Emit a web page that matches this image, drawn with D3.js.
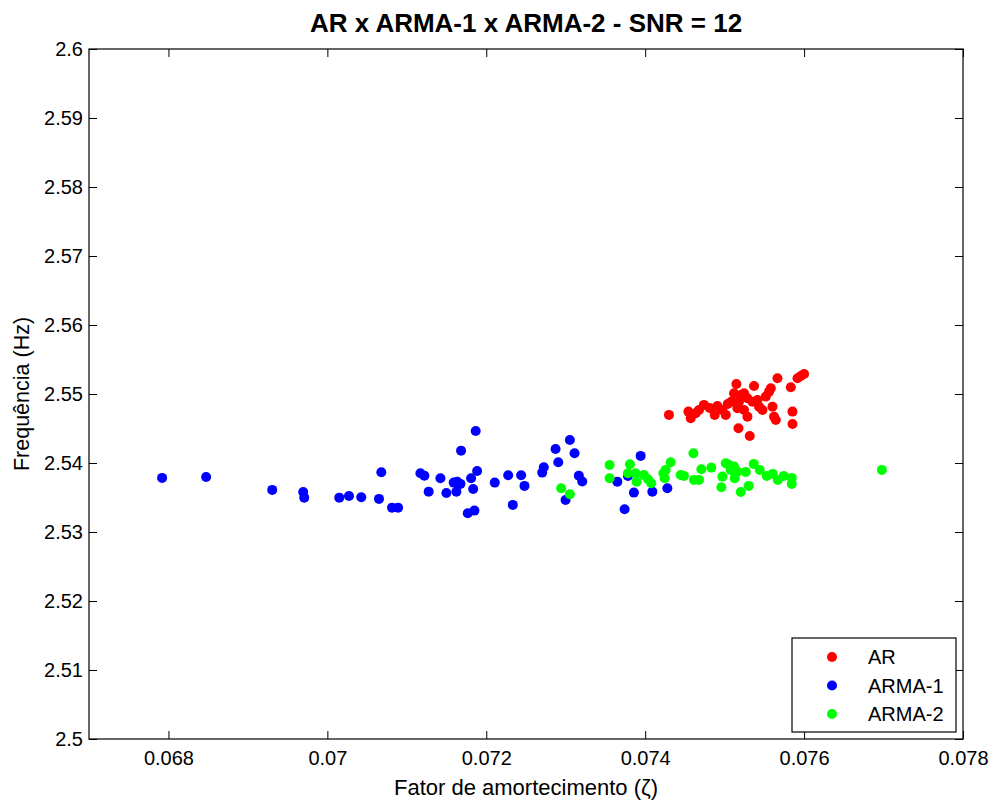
<!DOCTYPE html>
<html>
<head>
<meta charset="utf-8">
<script src="https://d3js.org/d3.v7.min.js"></script>
<style>
  body { margin: 0; background: #fff; }
  text { font-family: "Liberation Sans", Arial, sans-serif; fill: #000; }
</style>
</head>
<body>
<script>
// chart text
var title = "AR x ARMA-1 x ARMA-2 - SNR = 12";
var xTitle = "Fator de amortecimento (\u03B6)";
var yTitle = "Frequência (Hz)";
var seriesNames = ["AR", "ARMA-1", "ARMA-2"];
var seriesColors = ["#ff0000", "#0000ff", "#00ff00"];

// ticks
var xTicks = [0.068, 0.07, 0.072, 0.074, 0.076, 0.078];
var yTicks = [2.5, 2.51, 2.52, 2.53, 2.54, 2.55, 2.56, 2.57, 2.58, 2.59, 2.6];

// AR points (damping, frequency)
var arX = [0.074299, 0.074544, 0.074573, 0.074636, 0.074677, 0.074740, 0.074875, 0.074909, 0.074972, 0.075014,
           0.075085, 0.075148, 0.075161, 0.075174, 0.075203, 0.075244, 0.075287, 0.075287, 0.075316, 0.075370,
           0.075413, 0.075433, 0.075476, 0.075518, 0.075559, 0.075581, 0.075602, 0.075622, 0.075644, 0.075665,
           0.075833, 0.075854, 0.075854, 0.075917, 0.075959, 0.076000, 0.075118, 0.075244, 0.075350, 0.075181,
           0.075039, 0.074812];
var arY = [2.54697, 2.54745, 2.54649, 2.54721, 2.54769, 2.54842, 2.54697, 2.54827, 2.54769, 2.54697,
           2.54889, 2.55146, 2.54794, 2.54504, 2.54986, 2.54769, 2.54939, 2.54672, 2.54392, 2.55117,
           2.54914, 2.54817, 2.54769, 2.54962, 2.55034, 2.55084, 2.54817, 2.54672, 2.54624, 2.55228,
           2.55098, 2.54745, 2.54566, 2.55228, 2.55262, 2.55291, 2.55011, 2.55011, 2.54889, 2.54889,
           2.54856, 2.54798];

// ARMA-1 points
var arma1X = [0.067920, 0.068474, 0.069306, 0.069696, 0.069709, 0.070150, 0.070272, 0.070427, 0.070650, 0.070679,
              0.070814, 0.070890, 0.071171, 0.071221, 0.071275, 0.071423, 0.071498, 0.071590, 0.071633, 0.071675,
              0.071624, 0.071683, 0.071867, 0.071767, 0.071851, 0.071809, 0.071885, 0.071835, 0.072107, 0.072276,
              0.072334, 0.072439, 0.072481, 0.072704, 0.072724, 0.072872, 0.072906, 0.073052, 0.073111, 0.073165,
              0.073208, 0.072998, 0.073649, 0.073783, 0.073858, 0.073943, 0.073741, 0.074090, 0.074279];
var arma1Y = [2.53784, 2.53798, 2.53610, 2.53581, 2.53498, 2.53498, 2.53523, 2.53504, 2.53480, 2.53866,
              2.53353, 2.53353, 2.53852, 2.53817, 2.53585, 2.53779, 2.53566, 2.53716, 2.53730, 2.53697,
              2.53585, 2.54179, 2.54465, 2.53272, 2.53310, 2.53779, 2.53885, 2.53624, 2.53716, 2.53823,
              2.53393, 2.53823, 2.53668, 2.53861, 2.53939, 2.54204, 2.54011, 2.54334, 2.54142, 2.53817,
              2.53733, 2.53465, 2.53730, 2.53813, 2.53571, 2.54103, 2.53330, 2.53585, 2.53635];

// ARMA-2 points
var arma2X = [0.072943, 0.073052, 0.073552, 0.073552, 0.073808, 0.073783, 0.073880, 0.073892, 0.073984, 0.074035,
              0.074077, 0.074229, 0.074245, 0.074258, 0.074321, 0.074447, 0.074488, 0.074614, 0.074677, 0.074607,
              0.074707, 0.074833, 0.074972, 0.074959, 0.075014, 0.075055, 0.075077, 0.075118, 0.075127, 0.075161,
              0.075203, 0.075303, 0.075366, 0.075442, 0.075266, 0.075530, 0.075606, 0.075669, 0.075744, 0.075845,
              0.075845, 0.076979];
var arma2Y = [2.53635, 2.53548, 2.53972, 2.53779, 2.53982, 2.53852, 2.53852, 2.53730, 2.53827, 2.53765,
              2.53707, 2.53852, 2.53779, 2.53900, 2.54011, 2.53827, 2.53813, 2.53755, 2.53755, 2.54142,
              2.53910, 2.53933, 2.53803, 2.53649, 2.53997, 2.53972, 2.53900, 2.53948, 2.53779, 2.53875,
              2.53581, 2.53668, 2.53987, 2.53900, 2.53871, 2.53813, 2.53842, 2.53755, 2.53813, 2.53784,
              2.53697, 2.53900];

var seriesX = [arX, arma1X, arma2X];
var seriesY = [arY, arma1Y, arma2Y];

// layout
var W = 992, H = 801;
var margin = { top: 49, right: 29, bottom: 62, left: 89 };
var width = W - margin.left - margin.right;
var height = H - margin.top - margin.bottom;
var tickLen = 8;

var x = d3.scaleLinear().domain([0.067, 0.078]).range([0, width]);
var y = d3.scaleLinear().domain([2.5, 2.6]).range([height, 0]);

var svg = d3.select("body").append("svg")
            .attr("width", W)
            .attr("height", H);

var g = svg.append("g")
           .attr("transform", "translate(" + margin.left + "," + margin.top + ")");

// axes (inward ticks on all sides like matlab)
var fmt = function(d) { return String(+d.toFixed(3)); };

var xAxisB = g.append("g").attr("transform", "translate(0," + height + ")")
              .call(d3.axisBottom(x).tickValues(xTicks).tickSizeInner(-tickLen).tickSizeOuter(0).tickPadding(12).tickFormat(fmt));
var xAxisT = g.append("g")
              .call(d3.axisTop(x).tickValues(xTicks).tickSizeInner(-tickLen).tickSizeOuter(0).tickFormat(""));
var yAxisL = g.append("g")
              .call(d3.axisLeft(y).tickValues(yTicks).tickSizeInner(-tickLen).tickSizeOuter(0).tickPadding(6).tickFormat(fmt));
var yAxisR = g.append("g").attr("transform", "translate(" + width + ",0)")
              .call(d3.axisRight(y).tickValues(yTicks).tickSizeInner(-tickLen).tickSizeOuter(0).tickFormat(""));

g.selectAll(".domain").remove();
g.selectAll(".tick line").attr("stroke", "#000");
g.selectAll(".tick text").style("font-size", "20px").attr("fill", "#000");

// box
g.append("rect")
 .attr("width", width).attr("height", height)
 .attr("fill", "none").attr("stroke", "#000").attr("stroke-width", 1.2);

// points
seriesNames.forEach(function(name, i) {
  var pts = d3.range(seriesX[i].length).map(function(k) { return [seriesX[i][k], seriesY[i][k]]; });
  g.append("g").selectAll("circle")
   .data(pts)
   .enter()
   .append("circle")
   .attr("r", 5)
   .attr("cx", function(d) { return x(d[0]); })
   .attr("cy", function(d) { return y(d[1]); })
   .attr("fill", seriesColors[i]);
});

// titles
svg.append("text")
   .attr("x", margin.left + width / 2).attr("y", 32)
   .attr("text-anchor", "middle")
   .style("font-size", "26px").style("font-weight", "bold")
   .text(title);

svg.append("text")
   .attr("x", margin.left + width / 2).attr("y", 795)
   .attr("text-anchor", "middle")
   .style("font-size", "22px")
   .text(xTitle);

svg.append("text")
   .attr("transform", "translate(29," + (margin.top + height / 2) + ") rotate(-90)")
   .attr("text-anchor", "middle")
   .style("font-size", "21.5px")
   .text(yTitle);

// legend
var legend = svg.append("g").attr("transform", "translate(792,638)");
legend.append("rect")
      .attr("width", 164).attr("height", 94)
      .attr("fill", "#fff").attr("stroke", "#000").attr("stroke-width", 1.2);
seriesNames.forEach(function(name, i) {
  var ly = 19 + i * 28.5;
  legend.append("circle").attr("cx", 40).attr("cy", ly).attr("r", 5).attr("fill", seriesColors[i]);
  legend.append("text").attr("x", 76).attr("y", ly + 7).style("font-size", "20px").text(name);
});
</script>
</body>
</html>
